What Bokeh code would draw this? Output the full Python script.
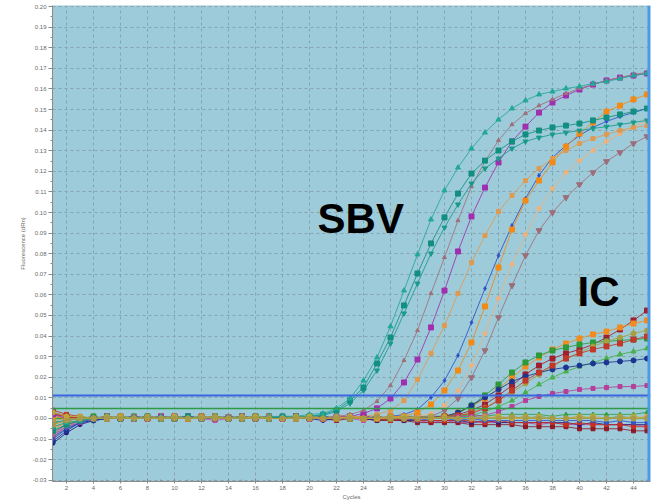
from bokeh.plotting import figure
from bokeh.models import FixedTicker, NumeralTickFormatter, Span, Label, Range1d
from bokeh.embed import file_html
from bokeh.resources import INLINE

cycles = list(range(1, 46))
x_ticks = [2, 4, 6, 8, 10, 12, 14, 16, 18, 20, 22, 24, 26, 28, 30, 32, 34, 36, 38, 40, 42, 44]
y_ticks = [-0.03, -0.02, -0.01, 0.00, 0.01, 0.02, 0.03, 0.04, 0.05, 0.06, 0.07, 0.08, 0.09, 0.10,
           0.11, 0.12, 0.13, 0.14, 0.15, 0.16, 0.17, 0.18, 0.19, 0.20]
threshold_sbv = 0.0112
threshold_ic = 0.0049

# ---- SBV amplification curves ----
sbv_teal_a = [-0.004, -0.002, -0.001, 0.000, 0.000, 0.001, 0.000, 0.000, 0.001, 0.000, 0.000, 0.001, 0.000, 0.000, 0.001,
              0.000, 0.001, 0.001, 0.001, 0.002, 0.0024, 0.0049, 0.0097, 0.0184, 0.0296, 0.0447, 0.0621, 0.0796, 0.0966, 0.1107,
              0.1218, 0.1311, 0.1388, 0.1451, 0.1505, 0.1544, 0.1573, 0.1587, 0.1602, 0.1612, 0.1626, 0.1636, 0.1650, 0.1665, 0.1675]
sbv_teal_b = [-0.006, -0.003, -0.001, 0.000, 0.001, 0.000, 0.000, 0.001, 0.000, 0.000, 0.001, 0.000, 0.001, 0.000, 0.000,
              0.001, 0.000, 0.001, 0.001, 0.001, 0.0019, 0.0039, 0.0087, 0.0150, 0.0267, 0.0393, 0.0549, 0.0704, 0.0850, 0.0976,
              0.1092, 0.1189, 0.1252, 0.1301, 0.1345, 0.1379, 0.1398, 0.1413, 0.1422, 0.1432, 0.1447, 0.1461, 0.1476, 0.1490, 0.1505]
sbv_teal_c = [-0.002, -0.001, 0.000, 0.000, 0.000, 0.001, 0.000, 0.000, 0.000, 0.001, 0.000, 0.000, 0.001, 0.000, 0.001,
              0.000, 0.000, 0.001, 0.000, 0.001, 0.0015, 0.0034, 0.0073, 0.0136, 0.0233, 0.0364, 0.0510, 0.0655, 0.0801, 0.0927,
              0.1039, 0.1141, 0.1214, 0.1262, 0.1311, 0.1345, 0.1364, 0.1379, 0.1388, 0.1398, 0.1408, 0.1417, 0.1427, 0.1437, 0.1447]
sbv_brown_up = [-0.008, -0.004, -0.001, 0.000, 0.000, 0.000, 0.001, 0.000, 0.000, 0.001, 0.000, 0.000, 0.000, 0.001, 0.000,
                0.000, 0.001, 0.000, 0.000, 0.001, 0.000, 0.0010, 0.0019, 0.0039, 0.0083, 0.0160, 0.0282, 0.0427, 0.0607, 0.0782,
                0.0961, 0.1126, 0.1248, 0.1350, 0.1427, 0.1481, 0.1519, 0.1549, 0.1578, 0.1602, 0.1621, 0.1641, 0.1655, 0.1670, 0.1680]
sbv_purple = [0.002, 0.000, 0.000, 0.000, 0.001, 0.000, 0.000, 0.000, 0.001, 0.000, 0.001, 0.000, 0.000, 0.000, 0.001,
              0.000, 0.000, 0.000, 0.001, 0.000, 0.000, 0.001, 0.0010, 0.0024, 0.0049, 0.0097, 0.0175, 0.0286, 0.0442, 0.0621,
              0.0811, 0.0981, 0.1121, 0.1243, 0.1345, 0.1417, 0.1485, 0.1534, 0.1568, 0.1597, 0.1621, 0.1641, 0.1655, 0.1665, 0.1675]
sbv_sandy = [-0.005, -0.002, -0.001, 0.000, 0.000, 0.001, 0.000, 0.000, 0.000, 0.001, 0.000, 0.000, 0.001, 0.000, 0.000,
             0.000, 0.001, 0.000, 0.000, 0.001, 0.000, 0.000, 0.001, 0.0010, 0.0019, 0.0039, 0.0087, 0.0189, 0.0316, 0.0451,
             0.0607, 0.0757, 0.0888, 0.1005, 0.1083, 0.1155, 0.1214, 0.1262, 0.1301, 0.1335, 0.1359, 0.1379, 0.1398, 0.1413, 0.1422]
sbv_blue = [-0.010, -0.005, -0.002, 0.000, 0.000, 0.000, 0.001, 0.000, 0.000, 0.000, 0.001, 0.000, 0.000, 0.001, 0.000,
            0.000, 0.000, 0.001, 0.000, 0.000, 0.001, 0.000, 0.000, 0.001, 0.000, 0.0010, 0.0019, 0.0044, 0.0102, 0.0184,
            0.0306, 0.0466, 0.0631, 0.0791, 0.0937, 0.1068, 0.1180, 0.1267, 0.1325, 0.1374, 0.1413, 0.1442, 0.1466, 0.1485, 0.1505]
sbv_orange = [0.001, 0.000, 0.000, 0.000, 0.000, 0.001, 0.000, 0.000, 0.001, 0.000, 0.000, 0.000, 0.001, 0.000, 0.000,
              0.001, 0.000, 0.000, 0.000, 0.001, 0.000, 0.000, 0.001, 0.000, 0.000, 0.001, 0.0010, 0.0029, 0.0068, 0.0136,
              0.0233, 0.0369, 0.0544, 0.0733, 0.0917, 0.1058, 0.1155, 0.1243, 0.1320, 0.1383, 0.1437, 0.1490, 0.1519, 0.1549, 0.1573]
sbv_peach = [-0.003, -0.001, 0.000, 0.000, 0.001, 0.000, 0.000, 0.000, 0.001, 0.000, 0.000, 0.001, 0.000, 0.000, 0.000,
             0.001, 0.000, 0.000, 0.001, 0.000, 0.000, 0.000, 0.001, 0.000, 0.000, 0.001, 0.000, 0.0010, 0.0024, 0.0063,
             0.0136, 0.0257, 0.0413, 0.0583, 0.0748, 0.0893, 0.1019, 0.1117, 0.1194, 0.1252, 0.1301, 0.1345, 0.1383, 0.1417, 0.1447]
sbv_brown_down = [-0.007, -0.003, -0.001, 0.000, 0.000, 0.000, 0.001, 0.000, 0.000, 0.001, 0.000, 0.000, 0.000, 0.001, 0.000,
                  0.000, 0.001, 0.000, 0.000, 0.000, 0.001, 0.000, 0.000, 0.001, 0.000, 0.000, 0.000, 0.001, 0.0010, 0.0039,
                  0.0097, 0.0199, 0.0330, 0.0490, 0.0646, 0.0791, 0.0913, 0.1000, 0.1073, 0.1136, 0.1194, 0.1248, 0.1291, 0.1335, 0.1369]

# ---- internal control curves ----
ic_maroon = [0.003, 0.001, 0.000, 0.000, 0.000, 0.001, 0.000, 0.000, 0.000, 0.001, 0.000, 0.000, 0.001, 0.000, 0.000,
             0.000, 0.001, 0.000, 0.000, 0.001, 0.000, 0.000, 0.000, 0.001, 0.000, 0.000, 0.001, 0.000, 0.000, 0.0010,
             0.0019, 0.0039, 0.0068, 0.0112, 0.0160, 0.0214, 0.0257, 0.0291, 0.0316, 0.0335, 0.0359, 0.0393, 0.0432, 0.0476, 0.0524]
ic_orange = [-0.004, -0.002, -0.001, 0.000, 0.001, 0.000, 0.000, 0.001, 0.000, 0.000, 0.000, 0.001, 0.000, 0.000, 0.001,
             0.000, 0.000, 0.000, 0.001, 0.000, 0.001, 0.000, 0.000, 0.000, 0.001, 0.000, 0.000, 0.000, 0.001, 0.0010,
             0.0029, 0.0058, 0.0097, 0.0146, 0.0199, 0.0252, 0.0296, 0.0335, 0.0364, 0.0388, 0.0408, 0.0422, 0.0442, 0.0461, 0.0476]
ic_green = [0.000, 0.000, 0.000, 0.001, 0.000, 0.000, 0.001, 0.000, 0.000, 0.000, 0.001, 0.000, 0.000, 0.000, 0.001,
            0.000, 0.001, 0.000, 0.000, 0.000, 0.001, 0.000, 0.000, 0.001, 0.000, 0.000, 0.000, 0.001, 0.000, 0.0010,
            0.0024, 0.0063, 0.0112, 0.0165, 0.0223, 0.0272, 0.0306, 0.0330, 0.0345, 0.0359, 0.0369, 0.0374, 0.0379, 0.0383, 0.0388]
ic_olive = [-0.002, -0.001, 0.000, 0.000, 0.000, 0.001, 0.000, 0.000, 0.001, 0.000, 0.000, 0.000, 0.001, 0.000, 0.000,
            0.001, 0.000, 0.000, 0.000, 0.001, 0.000, 0.000, 0.001, 0.000, 0.000, 0.000, 0.001, 0.000, 0.000, 0.001,
            0.0015, 0.0029, 0.0053, 0.0087, 0.0126, 0.0170, 0.0214, 0.0252, 0.0291, 0.0320, 0.0350, 0.0374, 0.0393, 0.0413, 0.0427]
ic_green2 = [-0.006, -0.003, -0.001, 0.000, 0.000, 0.000, 0.001, 0.000, 0.000, 0.001, 0.000, 0.000, 0.000, 0.001, 0.000,
             0.000, 0.001, 0.000, 0.000, 0.000, 0.001, 0.000, 0.000, 0.001, 0.000, 0.000, 0.000, 0.001, 0.000, 0.000,
             0.001, 0.0015, 0.0034, 0.0058, 0.0087, 0.0126, 0.0165, 0.0199, 0.0228, 0.0252, 0.0272, 0.0291, 0.0311, 0.0325, 0.0340]
ic_navy = [-0.011, -0.006, -0.002, -0.001, 0.000, 0.000, 0.000, 0.001, 0.000, 0.000, 0.001, 0.000, 0.000, 0.000, 0.001,
           0.000, 0.000, 0.001, 0.000, 0.000, 0.000, 0.001, 0.000, 0.000, 0.001, 0.000, 0.000, 0.000, 0.001, 0.0010,
           0.0029, 0.0063, 0.0102, 0.0141, 0.0180, 0.0204, 0.0223, 0.0238, 0.0248, 0.0257, 0.0267, 0.0272, 0.0277, 0.0282, 0.0291]
ic_red = [0.002, 0.001, 0.000, 0.000, 0.001, 0.000, 0.000, 0.000, 0.001, 0.000, 0.000, 0.001, 0.000, 0.000, 0.000,
          0.001, 0.000, 0.000, 0.001, 0.000, 0.000, 0.000, 0.001, 0.000, 0.000, 0.001, 0.000, 0.000, 0.000, 0.001,
          0.0015, 0.0024, 0.0049, 0.0087, 0.0136, 0.0184, 0.0223, 0.0257, 0.0291, 0.0316, 0.0335, 0.0350, 0.0364, 0.0383, 0.0398]
ic_magenta = [-0.009, -0.004, -0.002, 0.000, 0.000, 0.001, 0.000, 0.000, 0.000, 0.001, 0.000, 0.000, 0.001, 0.000, 0.000,
              0.000, 0.001, 0.000, 0.000, 0.001, 0.000, 0.000, 0.000, 0.001, 0.000, 0.000, 0.001, 0.000, 0.000, 0.000,
              0.001, 0.0010, 0.0015, 0.0034, 0.0058, 0.0087, 0.0107, 0.0121, 0.0131, 0.0141, 0.0146, 0.0150, 0.0155, 0.0155, 0.0160]

# ---- negative / flat curves ----
flat_magenta = [-0.008, -0.003, -0.001, 0.000, 0.000, 0.000, 0.000, 0.001, 0.000, 0.000, 0.000, 0.000, -0.001, 0.000, 0.000,
                0.000, 0.000, 0.000, 0.000, 0.000, 0.000, 0.000, 0.000, -0.001, 0.000, -0.001, -0.001, -0.001, -0.002, -0.001,
                -0.002, -0.002, -0.002, -0.002, -0.002, -0.002, -0.003, -0.002, -0.003, -0.003, -0.003, -0.003, -0.003, -0.003, -0.004]
flat_maroon = [0.002, 0.001, 0.000, 0.000, 0.000, 0.000, 0.001, 0.000, 0.000, 0.000, 0.000, 0.000, 0.000, 0.000, 0.001,
               0.000, 0.000, 0.000, 0.000, 0.000, 0.000, -0.001, 0.000, 0.000, -0.001, -0.001, -0.001, -0.002, -0.002, -0.002,
               -0.002, -0.003, -0.003, -0.003, -0.003, -0.004, -0.004, -0.004, -0.004, -0.005, -0.005, -0.005, -0.005, -0.006, -0.006]
flat_indigo = [-0.012, -0.007, -0.003, -0.001, 0.000, 0.000, 0.000, 0.000, 0.001, 0.000, 0.000, 0.000, 0.000, 0.000, 0.000,
               0.001, 0.000, 0.000, 0.000, 0.000, -0.001, 0.000, 0.000, 0.000, -0.001, 0.000, -0.001, -0.001, -0.001, -0.001,
               -0.001, -0.002, -0.001, -0.002, -0.002, -0.002, -0.002, -0.002, -0.002, -0.003, -0.002, -0.003, -0.003, -0.003, -0.003]
flat_green = [0.001, 0.000, 0.000, 0.000, 0.000, 0.001, 0.000, 0.000, 0.001, 0.000, 0.000, 0.000, 0.001, 0.000, 0.000,
              0.000, 0.001, 0.000, 0.000, 0.000, 0.001, 0.000, 0.000, 0.001, 0.000, 0.000, 0.001, 0.001, 0.001, 0.001,
              0.001, 0.002, 0.001, 0.002, 0.002, 0.002, 0.002, 0.001, 0.002, 0.002, 0.002, 0.002, 0.002, 0.002, 0.003]
flat_red = [0.004, 0.002, 0.001, 0.000, 0.000, 0.000, 0.000, 0.000, 0.001, 0.000, 0.000, 0.001, 0.000, 0.000, 0.000,
            0.000, 0.000, 0.001, 0.000, 0.000, 0.000, 0.000, 0.000, 0.000, 0.000, -0.001, 0.000, -0.001, -0.001, -0.001,
            -0.001, -0.001, -0.002, -0.001, -0.002, -0.002, -0.002, -0.002, -0.003, -0.002, -0.003, -0.003, -0.003, -0.004, -0.004]
flat_teal = [-0.002, -0.001, 0.000, 0.000, 0.000, 0.000, 0.001, 0.000, 0.000, 0.000, 0.001, 0.000, 0.000, 0.000, 0.000,
             0.001, 0.000, 0.000, 0.000, 0.001, 0.000, 0.000, 0.000, 0.001, 0.000, 0.000, 0.000, 0.001, 0.000, 0.000,
             0.000, 0.001, 0.000, 0.000, 0.000, 0.000, 0.001, 0.000, 0.000, 0.000, 0.000, 0.000, 0.001, 0.000, 0.000]
flat_orange = [-0.005, -0.002, -0.001, 0.000, 0.000, 0.001, 0.000, 0.000, 0.000, 0.000, 0.001, 0.000, 0.000, 0.000, 0.001,
               0.000, 0.000, 0.000, 0.000, 0.001, 0.000, 0.000, 0.000, 0.001, 0.000, 0.000, 0.000, 0.000, 0.001, 0.000,
               0.000, 0.000, 0.000, 0.001, 0.000, 0.000, 0.000, 0.000, 0.000, 0.001, 0.000, 0.000, 0.000, 0.000, 0.001]
flat_blue = [-0.009, -0.005, -0.002, -0.001, 0.000, 0.000, 0.000, 0.000, 0.000, 0.001, 0.000, 0.000, 0.000, 0.000, 0.000,
             0.000, 0.001, 0.000, 0.000, 0.000, 0.000, 0.000, 0.000, 0.000, 0.000, 0.000, 0.000, -0.001, 0.000, 0.000,
             -0.001, 0.000, -0.001, -0.001, -0.001, -0.001, -0.001, -0.001, -0.001, -0.001, -0.001, -0.002, -0.001, -0.002, -0.002]
flat_khaki1 = [-0.001, 0.000, 0.000, 0.000, 0.001, 0.000, 0.000, 0.001, 0.000, 0.000, 0.000, 0.001, 0.000, 0.000, 0.001,
               0.000, 0.000, 0.000, 0.001, 0.000, 0.000, 0.001, 0.000, 0.000, 0.000, 0.001, 0.000, 0.000, 0.001, 0.000,
               0.000, 0.000, 0.001, 0.000, 0.000, 0.001, 0.000, 0.000, 0.000, 0.001, 0.000, 0.000, 0.001, 0.000, 0.000]
flat_khaki2 = [0.003, 0.001, 0.001, 0.000, 0.000, 0.001, 0.000, 0.000, 0.000, 0.001, 0.000, 0.000, 0.001, 0.000, 0.000,
               0.001, 0.000, 0.000, 0.000, 0.001, 0.000, 0.000, 0.001, 0.000, 0.000, 0.000, 0.001, 0.000, 0.000, 0.001,
               0.000, 0.000, 0.000, 0.001, 0.000, 0.000, 0.001, 0.000, 0.000, 0.000, 0.001, 0.000, 0.000, 0.001, 0.000]
flat_khaki3 = [-0.003, -0.001, 0.000, 0.000, 0.000, 0.000, 0.000, 0.000, 0.000, 0.000, 0.000, 0.000, 0.001, 0.000, 0.000,
               0.000, 0.000, 0.000, 0.000, 0.000, 0.000, 0.000, 0.000, 0.000, 0.001, 0.000, 0.000, 0.000, 0.000, 0.000,
               0.000, 0.000, 0.000, 0.000, 0.001, 0.000, 0.000, 0.000, 0.000, 0.000, 0.000, 0.000, 0.000, 0.000, 0.000]

p = figure(width=654, height=502, output_backend="svg", toolbar_location=None,
           x_range=Range1d(0.963, 45.26), y_range=Range1d(-0.0306, 0.2005),
           min_border_left=52, min_border_right=4, min_border_top=5, min_border_bottom=21)
p.background_fill_color = "#9dcbd9"
p.border_fill_color = "white"
p.outline_line_color = None

for ax in (p.xaxis[0], p.yaxis[0]):
    ax.axis_line_color = "#8a8a8a"
    ax.major_tick_line_color = "#8a8a8a"
    ax.minor_tick_line_color = "#8a8a8a"
    ax.major_label_text_font = "Liberation Sans"
    ax.major_label_text_font_size = "6px"
    ax.major_label_text_color = "#6a6a6a"
    ax.axis_label_text_font = "Liberation Sans"
    ax.axis_label_text_font_size = "6px"
    ax.axis_label_text_font_style = "normal"
    ax.axis_label_text_color = "#6a6a6a"

p.xaxis.ticker = FixedTicker(ticks=x_ticks, minor_ticks=cycles)
p.xaxis.major_tick_in = 3
p.xaxis.major_tick_out = 2
p.xaxis.minor_tick_in = 2
p.xaxis.minor_tick_out = 0
p.xaxis.major_label_standoff = 2
p.xaxis.axis_label = "Cycles"
p.xaxis.axis_label_standoff = 1

p.yaxis.ticker = FixedTicker(ticks=y_ticks, minor_ticks=[t + 0.005 for t in y_ticks])
p.yaxis.formatter = NumeralTickFormatter(format="0.00")
p.yaxis.major_tick_in = 0
p.yaxis.major_tick_out = 4
p.yaxis.minor_tick_in = 0
p.yaxis.minor_tick_out = 2
p.yaxis.major_label_standoff = 2
p.yaxis.axis_label = "Fluorescence (dRn)"
p.yaxis.axis_label_standoff = 4

p.xgrid.ticker = FixedTicker(ticks=x_ticks)
p.ygrid.ticker = FixedTicker(ticks=y_ticks)
for g in (p.xgrid[0], p.ygrid[0]):
    g.grid_line_color = "#84a4ae"
    g.grid_line_dash = "3 3"
    g.grid_line_width = 1

curves = [
    (flat_magenta, "#c050a8", "square", 4),
    (flat_maroon, "#8c1c28", "square", 4),
    (flat_indigo, "#2a1a80", "circle", 4),
    (flat_green, "#30a040", "triangle", 4),
    (flat_red, "#c83020", "square", 4),
    (flat_teal, "#20a090", "circle", 4),
    (flat_orange, "#f0a020", "square", 4),
    (flat_blue, "#3355cc", "circle", 4),
    (ic_maroon, "#a02030", "square", 5),
    (ic_orange, "#f28c1e", "square", 5),
    (ic_green, "#2e9a3a", "square", 5),
    (ic_olive, "#a8a040", "circle", 5),
    (ic_green2, "#48b048", "triangle", 5),
    (ic_navy, "#1c3590", "circle", 5),
    (ic_red, "#c0392b", "square", 5),
    (ic_magenta, "#b5409a", "square", 4),
    (sbv_brown_down, "#9c6e7a", "inverted_triangle", 6),
    (sbv_peach, "#f0b27a", "circle", 4),
    (sbv_blue, "#3050c8", "diamond", 4),
    (sbv_sandy, "#e09a50", "square", 4),
    (sbv_orange, "#f38a16", "square", 5),
    (sbv_purple, "#a030b0", "square", 5),
    (sbv_brown_up, "#a0707a", "triangle", 4),
    (sbv_teal_c, "#1a9a8a", "inverted_triangle", 5),
    (sbv_teal_b, "#138f80", "square", 5),
    (sbv_teal_a, "#22a898", "triangle", 5),
    (flat_khaki1, "#b4a040", "circle", 5),
    (flat_khaki2, "#c0a838", "circle", 5),
    (flat_khaki3, "#a89a48", "circle", 5),
]

for vals, col, mk, sz in curves:
    p.line(cycles, vals, line_color=col, line_width=1, line_alpha=0.85)
    p.scatter(cycles, vals, marker=mk, size=sz, fill_color=col, line_color=col)

p.add_layout(Span(location=threshold_sbv, dimension="width", line_color="#3a66e0", line_width=2))
p.add_layout(Span(location=threshold_ic, dimension="width", line_color="#2f9a45", line_width=1.5))
p.add_layout(Span(location=45.15, dimension="height", line_color="#4a9ae8", line_width=3))

p.add_layout(Label(x=20.6, y=0.0971, text="SBV", text_font="Liberation Sans", text_font_size="42px",
                   text_font_style="bold", text_color="black", text_baseline="alphabetic"))
p.add_layout(Label(x=39.85, y=0.0617, text="IC", text_font="Liberation Sans", text_font_size="42px",
                   text_font_style="bold", text_color="black", text_baseline="alphabetic"))

open("out.html", "w").write(file_html(p, INLINE))
